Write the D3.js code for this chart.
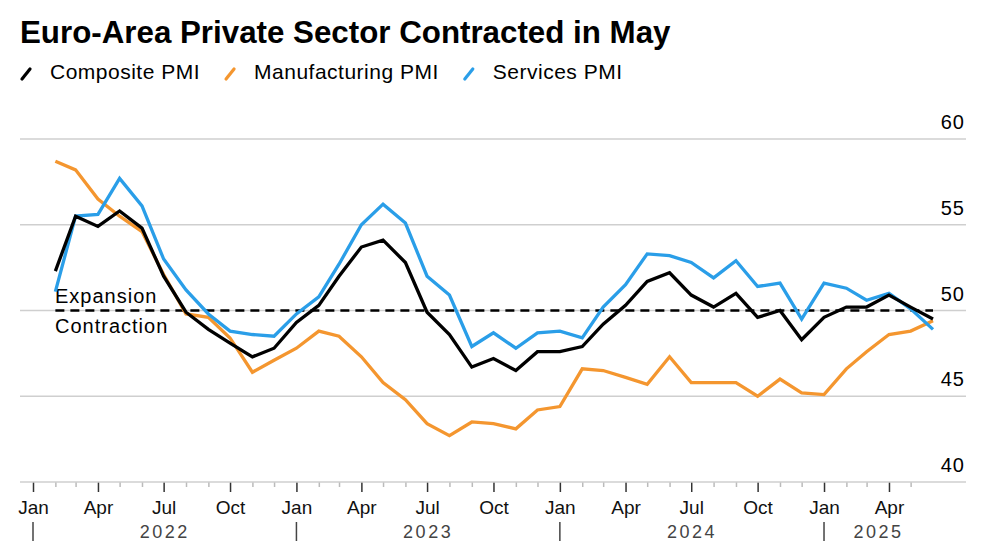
<!DOCTYPE html>
<html>
<head>
<meta charset="utf-8">
<script src="https://cdn.jsdelivr.net/npm/d3@7"></script>
<style>
  body { margin: 0; background: #fff; }
  svg { display: block; font-family: "Liberation Sans", Arial, sans-serif; }
</style>
</head>
<body>
<svg id="chart" width="1000" height="545"></svg>
<script>
// monthly readings, Jan 2022 .. May 2025
var months = ["2022-01","2022-02","2022-03","2022-04","2022-05","2022-06","2022-07","2022-08","2022-09","2022-10","2022-11","2022-12",
  "2023-01","2023-02","2023-03","2023-04","2023-05","2023-06","2023-07","2023-08","2023-09","2023-10","2023-11","2023-12",
  "2024-01","2024-02","2024-03","2024-04","2024-05","2024-06","2024-07","2024-08","2024-09","2024-10","2024-11","2024-12",
  "2025-01","2025-02","2025-03","2025-04","2025-05"];
var composite = [52.3,55.5,54.9,55.8,54.8,52.0,49.9,48.9,48.1,47.3,47.8,49.3,
  50.3,52.0,53.7,54.1,52.8,49.9,48.6,46.7,47.2,46.5,47.6,47.6,
  47.9,49.2,50.3,51.7,52.2,50.9,50.2,51.0,49.6,50.0,48.3,49.6,
  50.2,50.2,50.9,50.2,49.5];
var manufacturing = [58.7,58.2,56.5,55.5,54.6,52.1,49.8,49.6,48.4,46.4,47.1,47.8,
  48.8,48.5,47.3,45.8,44.8,43.4,42.7,43.5,43.4,43.1,44.2,44.4,
  46.6,46.5,46.1,45.7,47.3,45.8,45.8,45.8,45.0,46.0,45.2,45.1,
  46.6,47.6,48.6,48.8,49.4];
var services = [51.1,55.5,55.6,57.7,56.1,53.0,51.2,49.8,48.8,48.6,48.5,49.8,
  50.8,52.7,55.0,56.2,55.1,52.0,50.9,47.9,48.7,47.8,48.7,48.8,
  48.4,50.2,51.5,53.3,53.2,52.8,51.9,52.9,51.4,51.6,49.5,51.6,
  51.3,50.6,51.0,50.1,48.9];
var seriesNames = ["Composite PMI", "Manufacturing PMI", "Services PMI"];
var seriesColors = ["#000000", "#f4962f", "#2a9ee8"];
var yTicks = [40, 45, 50, 55, 60];
var years = ["2022", "2023", "2024", "2025"];
var monthNames = ["Jan","Feb","Mar","Apr","May","Jun","Jul","Aug","Sep","Oct","Nov","Dec"];

var svg = d3.select("#chart");
var parseMonth = d3.timeParse("%Y-%m");
var dates = months.map(parseMonth);
// each reading sits at the end of its month
var pointDates = dates.map(function(d){ return d3.timeMonth.offset(d, 1); });

var left = 20, right = 966;
var x = d3.scaleTime()
  .domain([dates[0], pointDates[pointDates.length - 1]])
  .range([33, 933]);
var y = d3.scaleLinear().domain([40, 60]).range([482, 139]);

// title
svg.append("text")
  .attr("x", 20).attr("y", 43)
  .attr("font-size", 31.3).attr("font-weight", "bold")
  .text("Euro-Area Private Sector Contracted in May");

// legend
var lx = 20;
seriesNames.forEach(function(name, i){
  svg.append("line")
    .attr("x1", lx + 2).attr("y1", 79).attr("x2", lx + 10).attr("y2", 69)
    .attr("stroke", seriesColors[i]).attr("stroke-width", 3.2)
    .attr("stroke-linecap", "round");
  var t = svg.append("text")
    .attr("x", lx + 30).attr("y", 79)
    .attr("font-size", 21).attr("letter-spacing", 0.5)
    .text(name);
  lx = lx + 30 + t.node().getComputedTextLength() + 24;
});

// gridlines + right labels
yTicks.forEach(function(v){
  if (v > 40) {
    svg.append("line")
      .attr("x1", left).attr("x2", right)
      .attr("y1", y(v)).attr("y2", y(v))
      .attr("stroke", "#cfcfcf").attr("stroke-width", 1.5);
  }
  svg.append("text")
    .attr("x", 965).attr("y", y(v) - 10)
    .attr("text-anchor", "end")
    .attr("font-size", 20).attr("letter-spacing", 1)
    .text(v);
});

// x axis
var tickDates = d3.timeMonth.range(dates[0], pointDates[pointDates.length - 1]);
var xAxis = d3.axisBottom(x)
  .tickValues(tickDates)
  .tickSize(10)
  .tickFormat(function(d){ return d.getMonth() % 3 == 0 ? monthNames[d.getMonth()] : ""; });
var gx = svg.append("g").attr("transform", "translate(0,482)").call(xAxis);
gx.select(".domain").remove();
gx.selectAll(".tick line")
  .attr("stroke", function(d){ return d.getMonth() % 3 == 0 ? "#333" : "#bbb"; })
  .attr("stroke-width", 1.5)
  .attr("y2", function(d){ return d.getMonth() % 3 == 0 ? 10 : 5; });
gx.selectAll(".tick text")
  .attr("y", 32).attr("dy", null)
  .attr("font-size", 19)
  .attr("font-family", "Liberation Sans, Arial, sans-serif")
  .attr("fill", "#111");
svg.append("line")
  .attr("x1", left).attr("x2", right).attr("y1", 482).attr("y2", 482)
  .attr("stroke", "#cfcfcf").attr("stroke-width", 1.5);

// year labels, centred on the visible part of each year
years.forEach(function(yr){
  var start = parseMonth(yr + "-01");
  var end = d3.min([d3.timeYear.offset(start, 1), pointDates[pointDates.length - 1]]);
  svg.append("line")
    .attr("x1", x(start)).attr("x2", x(start))
    .attr("y1", 522).attr("y2", 541)
    .attr("stroke", "#444").attr("stroke-width", 1.5);
  svg.append("text")
    .attr("x", (x(start) + x(end)) / 2).attr("y", 538)
    .attr("text-anchor", "middle")
    .attr("font-size", 18).attr("letter-spacing", 2.5)
    .attr("fill", "#444")
    .text(yr);
});

// 50 threshold
svg.append("line")
  .attr("x1", x(pointDates[0])).attr("x2", x(pointDates[pointDates.length - 1]))
  .attr("y1", y(50)).attr("y2", y(50))
  .attr("stroke", "#000").attr("stroke-width", 2.6)
  .attr("stroke-dasharray", "9,6");
svg.append("text")
  .attr("x", 55).attr("y", 303)
  .attr("font-size", 20).attr("letter-spacing", 1)
  .text("Expansion");
svg.append("text")
  .attr("x", 55).attr("y", 333)
  .attr("font-size", 20).attr("letter-spacing", 1)
  .text("Contraction");

// lines
var line = d3.line()
  .x(function(d, i){ return x(pointDates[i]); })
  .y(function(d){ return y(d); });
var drawOrder = [[manufacturing, 1], [services, 2], [composite, 0]];
drawOrder.forEach(function(s){
  svg.append("path")
    .datum(s[0])
    .attr("d", line)
    .attr("fill", "none")
    .attr("stroke", seriesColors[s[1]])
    .attr("stroke-width", 3.3)
    .attr("stroke-linejoin", "miter");
});
</script>
</body>
</html>
